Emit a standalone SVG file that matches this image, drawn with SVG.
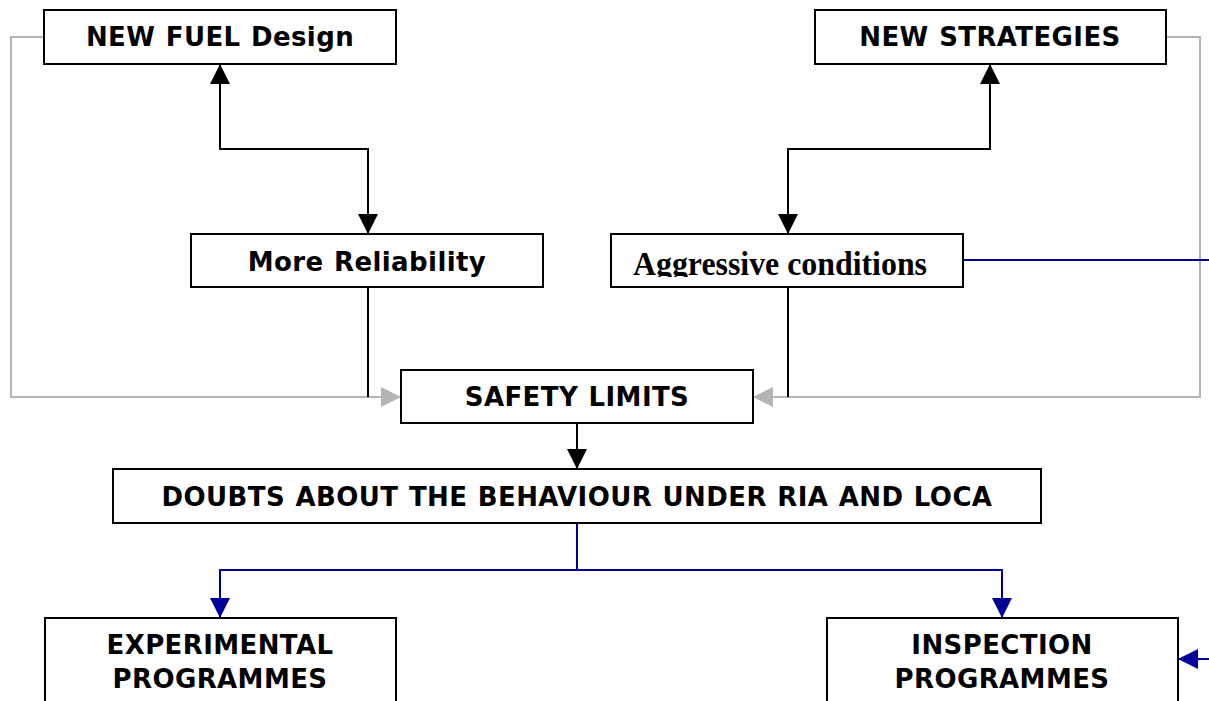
<svg xmlns="http://www.w3.org/2000/svg" width="1209" height="701" viewBox="0 0 1209 701">
<style>
.box{fill:#fff;stroke:#000;stroke-width:2}
.t{font-family:"DejaVu Sans",Verdana,sans-serif;font-weight:bold;font-size:26px;fill:#000;text-anchor:middle;word-spacing:1px;letter-spacing:0.4px}
.ts{font-family:"Liberation Serif","Times New Roman",serif;font-weight:bold;font-size:34px;fill:#000}
.k{fill:none;stroke:#000;stroke-width:2}
.g{fill:none;stroke:#b4b4b4;stroke-width:2}
.b{fill:none;stroke:#000099;stroke-width:2}
</style>
<defs>
<marker id="ak" viewBox="0 0 20 20" refX="20" refY="10" markerWidth="20" markerHeight="20" markerUnits="userSpaceOnUse" orient="auto-start-reverse"><path d="M0,0 L20,10 L0,20 Z" fill="#000"/></marker>
<marker id="ag" viewBox="0 0 20 20" refX="20" refY="10" markerWidth="20" markerHeight="20" markerUnits="userSpaceOnUse" orient="auto"><path d="M0,0 L20,10 L0,20 Z" fill="#b4b4b4"/></marker>
<marker id="ab" viewBox="0 0 20 20" refX="20" refY="10" markerWidth="20" markerHeight="20" markerUnits="userSpaceOnUse" orient="auto"><path d="M0,0 L20,10 L0,20 Z" fill="#000099"/></marker>
<clipPath id="clipAgg"><rect x="612" y="235" width="350" height="42"/></clipPath>
</defs>
<g id="connectors">
<path class="g" d="M44,37 H11 V397 H401" marker-end="url(#ag)"/>
<path class="g" d="M1166,37 H1200 V397 H753" marker-end="url(#ag)"/>
<path class="k" d="M220,64 V149 H368 V234" marker-start="url(#ak)" marker-end="url(#ak)"/>
<path class="k" d="M990,64 V149 H788 V234" marker-start="url(#ak)" marker-end="url(#ak)"/>
<path class="k" d="M368,287 V397"/>
<path class="k" d="M788,287 V397"/>
<path class="k" d="M577,423 V469" marker-end="url(#ak)"/>
<path class="b" d="M577,523 V570 H220 V618" marker-end="url(#ab)"/>
<path class="b" d="M577,570 H1002 V618" marker-end="url(#ab)"/>
<path class="b" d="M963,260 H1209"/>
<path class="b" d="M1209,659 H1178" marker-end="url(#ab)"/>
</g>
<g id="new-fuel"><rect class="box" x="44" y="10" width="352" height="54"/><text class="t" x="220" y="46">NEW FUEL Design</text></g>
<g id="new-strategies"><rect class="box" x="815" y="10" width="351" height="54"/><text class="t" x="990" y="46">NEW STRATEGIES</text></g>
<g id="more-reliability"><rect class="box" x="191" y="234" width="352" height="53"/><text class="t" x="367" y="271">More Reliability</text></g>
<g id="aggressive"><rect class="box" x="611" y="234" width="352" height="53"/><text class="ts" x="633" y="275" textLength="294" lengthAdjust="spacingAndGlyphs" clip-path="url(#clipAgg)">Aggressive conditions</text></g>
<g id="safety-limits"><rect class="box" x="401" y="370" width="352" height="53"/><text class="t" x="577" y="406">SAFETY LIMITS</text></g>
<g id="doubts"><rect class="box" x="113" y="469" width="928" height="54"/><text class="t" x="577" y="506">DOUBTS ABOUT THE BEHAVIOUR UNDER RIA AND LOCA</text></g>
<g id="experimental"><rect class="box" x="45" y="618" width="351" height="100"/><text class="t" x="220" y="654">EXPERIMENTAL</text><text class="t" x="220" y="688">PROGRAMMES</text></g>
<g id="inspection"><rect class="box" x="827" y="618" width="351" height="100"/><text class="t" x="1002" y="654">INSPECTION</text><text class="t" x="1002" y="688">PROGRAMMES</text></g>
</svg>
